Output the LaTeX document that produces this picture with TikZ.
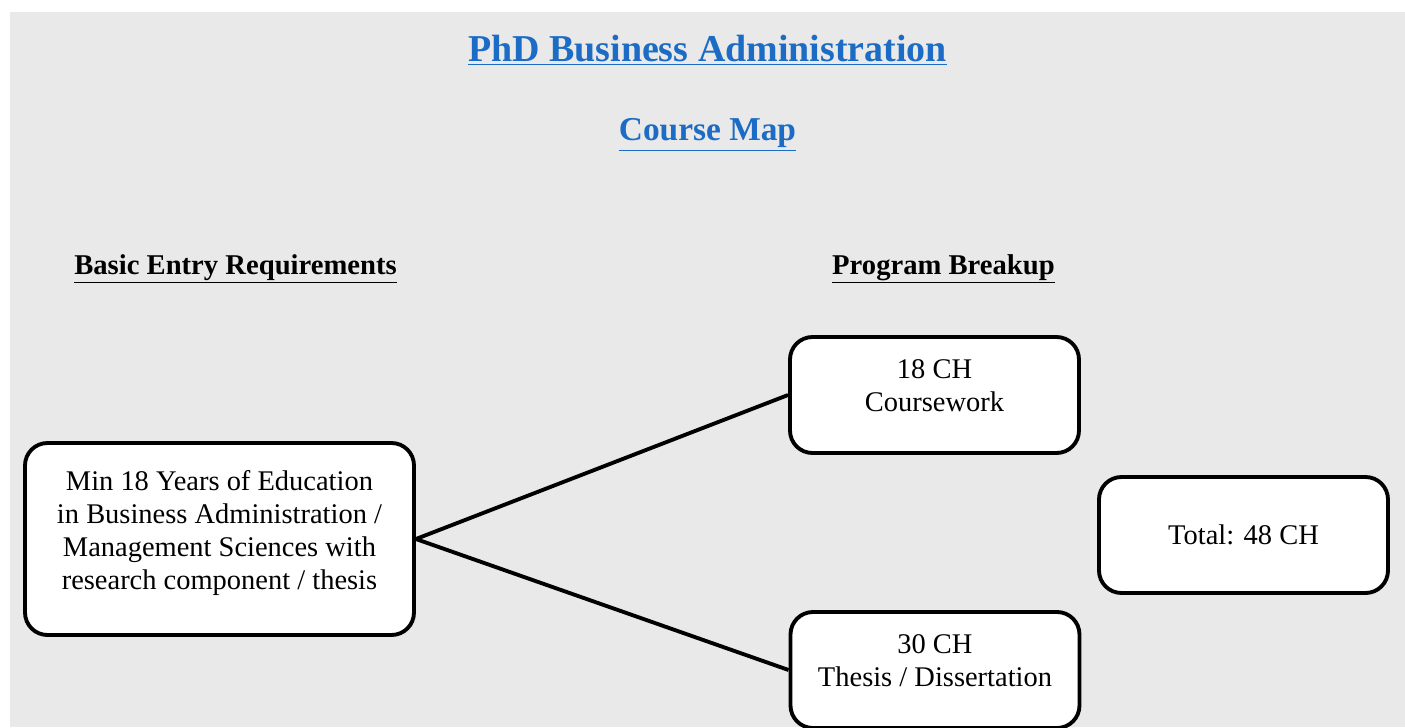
\documentclass[tikz,border=0pt]{standalone}
\usepackage{fontspec}
\setmainfont{Liberation Serif}
\definecolor{pagegray}{RGB}{233,233,233}
\definecolor{titleblue}{RGB}{28,108,198}

\tikzset{
  box/.style={rectangle, draw, line width=2.2pt, rounded corners=0.45cm, fill=white,
    minimum width=5.78cm, minimum height=2.32cm, align=center,
    font=\fontsize{16.2}{18.8}\selectfont},
  raised/.style={text depth=0.36cm},
  heading/.style={font=\fontsize{16.3}{19}\selectfont\bfseries},
  link/.style={line width=2.2pt}
}

\begin{document}
\begin{tikzpicture}
  \useasboundingbox (0, 0) rectangle (28.1, -14.54);
  \fill [pagegray] (0.2, -0.24) rectangle (28.1, -14.54);

  \node (title) [font=\fontsize{21.6}{25}\selectfont\bfseries, text=titleblue] at (14.15, -1.0) {\underline{PhD Business Administration}};
  \node (map) [font=\fontsize{19}{22}\selectfont\bfseries, text=titleblue] at (14.15, -2.7) {\underline{Course Map}};

  \node (entry) [heading] at (4.71, -5.38) {\underline{Basic Entry Requirements}};
  \node (breakup) [heading] at (18.87, -5.38) {\underline{Program Breakup}};

  \node (req) [box, raised, minimum width=7.78cm, minimum height=3.84cm] at (4.39, -10.78)
    {Min 18 Years of Education\\in Business Administration /\\Management Sciences with\\research component / thesis};
  \node (course) [box, raised] at (18.69, -7.9) {18 CH\\Coursework};
  \node (total) [box] at (24.87, -10.7) {Total: 48 CH};
  \node (thesis) [box, raised] at (18.7, -13.4) {30 CH\\Thesis / Dissertation};

  \draw [link] (req.east) -- (course.west);
  \draw [link] (req.east) -- (thesis.west);
\end{tikzpicture}
\end{document}
